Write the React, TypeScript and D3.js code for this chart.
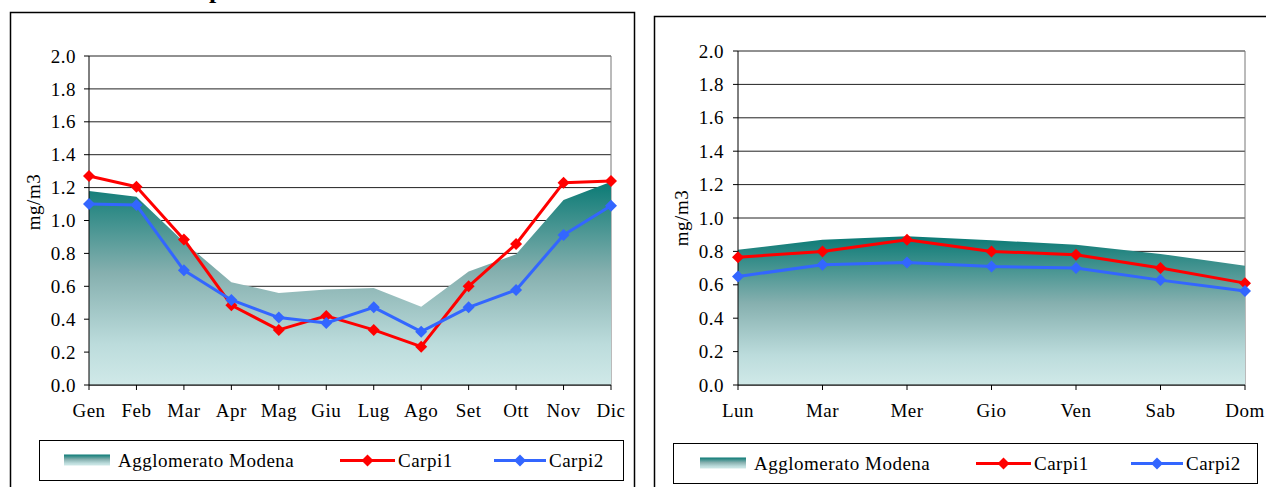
import React from "react";
import * as d3 from "d3";

const months = ["Gen", "Feb", "Mar", "Apr", "Mag", "Giu", "Lug", "Ago", "Set", "Ott", "Nov", "Dic"];
const monthAgglo = [1.18, 1.145, 0.87, 0.625, 0.56, 0.58, 0.59, 0.475, 0.69, 0.795, 1.125, 1.235];
const monthCarpi1 = [1.27, 1.205, 0.885, 0.485, 0.335, 0.42, 0.335, 0.233, 0.6, 0.857, 1.23, 1.24];
const monthCarpi2 = [1.1, 1.094, 0.697, 0.517, 0.41, 0.377, 0.472, 0.324, 0.472, 0.578, 0.912, 1.09];

const days = ["Lun", "Mar", "Mer", "Gio", "Ven", "Sab", "Dom"];
const dayAgglo = [0.81, 0.87, 0.89, 0.867, 0.84, 0.785, 0.714];
const dayCarpi1 = [0.765, 0.8, 0.87, 0.8, 0.78, 0.7, 0.61];
const dayCarpi2 = [0.65, 0.72, 0.734, 0.71, 0.7, 0.628, 0.563];

const yTicks = [0, 0.2, 0.4, 0.6, 0.8, 1.0, 1.2, 1.4, 1.6, 1.8, 2.0];
const seriesNames = ["Agglomerato Modena", "Carpi1", "Carpi2"];

const FONT = "Liberation Serif, DejaVu Serif, Times New Roman, serif";
const RED = "#ff0000";
const BLUE = "#3366ff";
const textStyle = { fontFamily: FONT, fontSize: "19px", letterSpacing: "0.5px" };

function diamond(x: number, y: number, r: number) {
  return `M${x},${y - r}L${x + r},${y}L${x},${y + r}L${x - r},${y}Z`;
}

type PanelProps = {
  id: string;
  cats: string[];
  agglo: number[];
  c1: number[];
  c2: number[];
  panel: { x: number; y: number; w: number; h: number };
  plot: { x0: number; x1: number; y0: number; y1: number };
  yLabelX: number;
  yTitle: { x: number; y: number };
  legend: { x: number; y: number; w: number; h: number; sw: number; c1: number; c2: number };
};

function Panel(p: PanelProps) {
  const x = d3.scalePoint<string>().domain(p.cats).range([p.plot.x0, p.plot.x1]);
  const y = d3.scaleLinear().domain([0, 2]).range([p.plot.y1, p.plot.y0]);
  const area = d3
    .area<number>()
    .x((_, i) => x(p.cats[i])!)
    .y0(y(0))
    .y1((d) => y(d));
  const line = d3
    .line<number>()
    .x((_, i) => x(p.cats[i])!)
    .y((d) => y(d));
  const gid = `grad-${p.id}`;
  const lg = p.legend;
  const ly = lg.y + lg.h / 2;
  return (
    <g>
      <defs>
        <linearGradient id={gid} x1="0" y1="0" x2="0" y2="1">
          <stop offset="0%" stopColor="#0a7a75" />
          <stop offset="45%" stopColor="#86b0af" />
          <stop offset="80%" stopColor="#bcdcdc" />
          <stop offset="100%" stopColor="#d0e9e8" />
        </linearGradient>
      </defs>
      <rect x={p.panel.x} y={p.panel.y} width={p.panel.w} height={p.panel.h} fill="#fff" stroke="#000" strokeWidth={1.5} />
      {yTicks.map((t) => (
        <line key={t} x1={p.plot.x0} x2={p.plot.x1} y1={y(t)} y2={y(t)} stroke="#222" strokeWidth={1} />
      ))}
      <line x1={p.plot.x1} x2={p.plot.x1} y1={p.plot.y0} y2={p.plot.y1} stroke="#777" strokeWidth={1} />
      <path d={area(p.agglo)!} fill={`url(#${gid})`} />
      <line x1={p.plot.x0} x2={p.plot.x0} y1={p.plot.y0} y2={p.plot.y1} stroke="#000" strokeWidth={1} />
      <line x1={p.plot.x0} x2={p.plot.x1} y1={p.plot.y1} y2={p.plot.y1} stroke="#000" strokeWidth={1} />
      {yTicks.map((t) => (
        <g key={`yt${t}`}>
          <line x1={p.plot.x0 - 5} x2={p.plot.x0} y1={y(t)} y2={y(t)} stroke="#000" />
          <text x={p.yLabelX} y={y(t)} dy="0.35em" textAnchor="end" style={textStyle} fill="#000">
            {t.toFixed(1)}
          </text>
        </g>
      ))}
      {p.cats.map((c) => (
        <g key={`xt${c}`}>
          <line x1={x(c)} x2={x(c)} y1={p.plot.y1} y2={p.plot.y1 + 5} stroke="#000" />
          <text x={x(c)} y={p.plot.y1 + 32} textAnchor="middle" style={textStyle} fill="#000">
            {c}
          </text>
        </g>
      ))}
      <text
        transform={`translate(${p.yTitle.x},${p.yTitle.y}) rotate(-90)`}
        textAnchor="middle"
        style={textStyle}
        fill="#000"
      >
        mg/m3
      </text>
      <path d={line(p.c1)!} fill="none" stroke={RED} strokeWidth={3} strokeLinejoin="round" />
      {p.c1.map((v, i) => (
        <path key={`m1${i}`} d={diamond(x(p.cats[i])!, y(v), 6)} fill={RED} />
      ))}
      <path d={line(p.c2)!} fill="none" stroke={BLUE} strokeWidth={3} strokeLinejoin="round" />
      {p.c2.map((v, i) => (
        <path key={`m2${i}`} d={diamond(x(p.cats[i])!, y(v), 6)} fill={BLUE} />
      ))}
      <rect x={lg.x} y={lg.y} width={lg.w} height={lg.h} fill="#fff" stroke="#000" strokeWidth={1} />
      <rect x={lg.sw} y={ly - 6} width={46} height={11} fill={`url(#${gid})`} />
      <text x={lg.sw + 54} y={ly} dy="0.35em" style={textStyle} fill="#000">
        {seriesNames[0]}
      </text>
      <line x1={lg.c1} x2={lg.c1 + 55} y1={ly} y2={ly} stroke={RED} strokeWidth={3} />
      <path d={diamond(lg.c1 + 27.5, ly, 6)} fill={RED} />
      <text x={lg.c1 + 58} y={ly} dy="0.35em" style={textStyle} fill="#000">
        {seriesNames[1]}
      </text>
      <line x1={lg.c2} x2={lg.c2 + 52} y1={ly} y2={ly} stroke={BLUE} strokeWidth={3} />
      <path d={diamond(lg.c2 + 26, ly, 6)} fill={BLUE} />
      <text x={lg.c2 + 55} y={ly} dy="0.35em" style={textStyle} fill="#000">
        {seriesNames[2]}
      </text>
    </g>
  );
}

export default function App() {
  return (
    <svg
      width={1266}
      height={487}
      style={{ position: "absolute", left: 0, top: 0, background: "#fff" }}
    >
      <text x={209} y={-2} style={{ fontFamily: FONT, fontSize: "26px", fontWeight: "bold" }} fill="#000">
        p
      </text>
      <Panel
        id="m"
        cats={months}
        agglo={monthAgglo}
        c1={monthCarpi1}
        c2={monthCarpi2}
        panel={{ x: 10.5, y: 12.5, w: 624, h: 500 }}
        plot={{ x0: 89, x1: 611, y0: 56, y1: 385 }}
        yLabelX={76}
        yTitle={{ x: 40, y: 202 }}
        legend={{ x: 39.5, y: 440.5, w: 584, h: 40, sw: 64, c1: 340, c2: 494 }}
      />
      <Panel
        id="d"
        cats={days}
        agglo={dayAgglo}
        c1={dayCarpi1}
        c2={dayCarpi2}
        panel={{ x: 654.5, y: 16.5, w: 640, h: 500 }}
        plot={{ x0: 738, x1: 1245, y0: 51, y1: 385 }}
        yLabelX={724}
        yTitle={{ x: 688, y: 218 }}
        legend={{ x: 673.5, y: 443.5, w: 584, h: 40, sw: 700, c1: 976, c2: 1131 }}
      />
    </svg>
  );
}
